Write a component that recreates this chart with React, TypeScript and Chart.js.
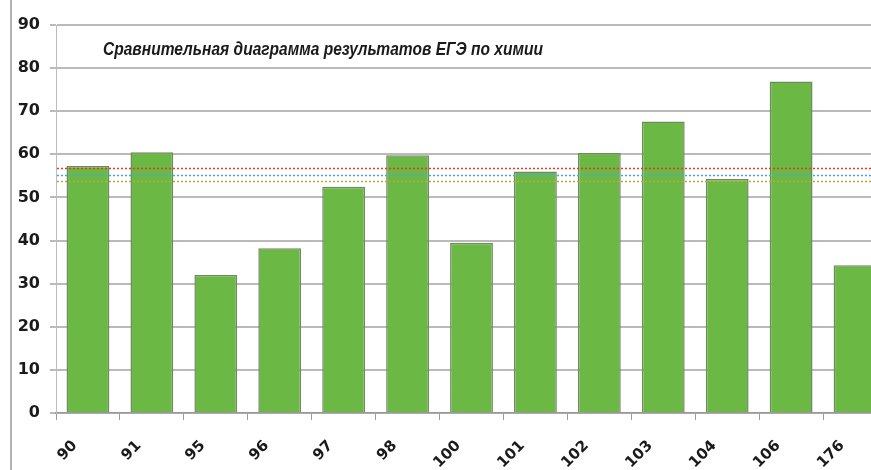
import React, { useEffect, useRef } from "react";
import { Chart, registerables } from "chart.js";

Chart.register(...registerables);

const categories = ["90", "91", "95", "96", "97", "98", "100", "101", "102", "103", "104", "106", "176"];
const scores = [57.3, 60.5, 32.0, 38.2, 52.5, 59.8, 39.5, 56.0, 60.3, 67.6, 54.3, 76.9, 34.3];
const referenceValues = [56.8, 55.1, 53.8];
const referenceColors = ["#e8382a", "#4aa7dc", "#b8ab3c"];
const yTicks = [0, 10, 20, 30, 40, 50, 60, 70, 80, 90];
const title = "Сравнительная диаграмма результатов ЕГЭ по химии";

export default function App() {
  const ref = useRef<HTMLCanvasElement | null>(null);
  useEffect(() => {
    const canvas = ref.current;
    if (!canvas) return;
    const overlay = {
      id: "overlay",
      beforeDraw(chart: any) {
        const ctx = chart.ctx;
        ctx.save();
        ctx.fillStyle = "#ffffff";
        ctx.fillRect(0, 0, chart.width, chart.height);
        ctx.strokeStyle = "#b4b4b4";
        ctx.lineWidth = 2;
        ctx.beginPath();
        ctx.moveTo(11, 0);
        ctx.lineTo(11, chart.height);
        ctx.stroke();
        ctx.restore();
      },
      afterDatasetsDraw(chart: any) {
        const ctx = chart.ctx;
        const area = chart.chartArea;
        const y = chart.scales.y;
        ctx.save();
        referenceValues.forEach((v, i) => {
          const py = Math.round(y.getPixelForValue(v)) + 0.5;
          ctx.strokeStyle = referenceColors[i];
          ctx.lineWidth = 1.6;
          ctx.setLineDash([2, 2]);
          ctx.beginPath();
          ctx.moveTo(area.left + 1, py);
          ctx.lineTo(area.right, py);
          ctx.stroke();
        });
        ctx.setLineDash([]);
        ctx.fillStyle = "#1a1a1a";
        ctx.font = "italic bold 19px 'Liberation Sans', Arial, sans-serif";
        ctx.textBaseline = "alphabetic";
        ctx.textAlign = "left";
        const w = ctx.measureText(title).width;
        const sx = 440 / w;
        ctx.translate(103, 55);
        ctx.scale(sx, 1);
        ctx.fillText(title, 0, 0);
        ctx.restore();
      },
    };
    const chart = new Chart(canvas, {
      type: "bar",
      data: {
        labels: categories,
        datasets: [
          {
            data: scores,
            backgroundColor: "#6bb944",
            borderColor: "#6f8a62",
            borderWidth: 1.5,
            categoryPercentage: 1,
            barPercentage: 0.67,
          },
        ],
      },
      options: {
        animation: false,
        responsive: false,
        devicePixelRatio: 1,
        layout: { padding: { top: 25, left: 0, right: 0, bottom: 0 } },
        plugins: { legend: { display: false }, tooltip: { enabled: false } },
        scales: {
          x: {
            grid: {
              offset: true,
              drawOnChartArea: false,
              drawTicks: true,
              tickLength: 7,
              color: "#9a9a9a",
              lineWidth: 1,
            },
            border: { display: true, color: "#9a9a9a", width: 1.5 },
            ticks: {
              maxRotation: 45,
              minRotation: 45,
              padding: 17,
              labelOffset: -13,
              color: "#1a1a1a",
              font: { family: "'DejaVu Sans', sans-serif", weight: "bold", size: 15 },
            },
            afterFit(scale: any) {
              scale.height = 57;
            },
          },
          y: {
            min: 0,
            max: 90,
            afterBuildTicks(scale: any) {
              scale.ticks = yTicks.map((v) => ({ value: v }));
            },
            grid: { color: "#bcb9ba", lineWidth: 2, tickLength: 6 },
            border: { display: true, color: "#bdbdbd", width: 1 },
            ticks: {
              padding: 10,
              color: "#1a1a1a",
              font: { family: "'DejaVu Sans', sans-serif", weight: "bold", size: 16 },
            },
            afterFit(scale: any) {
              scale.width = 56;
            },
          },
        },
      },
      plugins: [overlay],
    } as any);
    return () => chart.destroy();
  }, []);
  return (
    <div
      style={{
        position: "fixed",
        left: 0,
        top: 0,
        width: 871,
        height: 470,
        overflow: "hidden",
        background: "#fff",
      }}
    >
      <canvas ref={ref} width={887} height={470} style={{ display: "block" }} />
    </div>
  );
}
